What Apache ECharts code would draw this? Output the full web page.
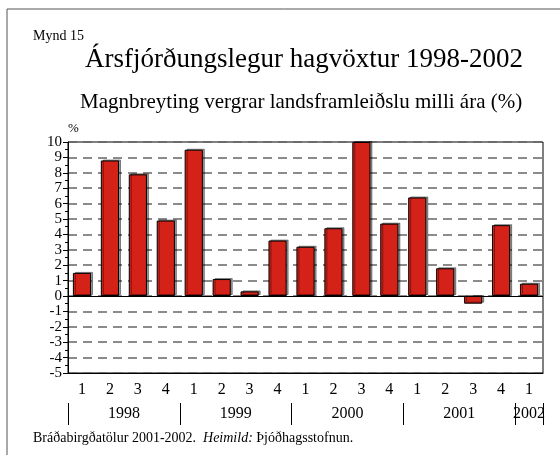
<!DOCTYPE html>
<html lang="is">
<head>
    <meta charset="UTF-8">
    <title>Ársfjórðungslegur hagvöxtur 1998-2002</title>
    <script src="https://cdn.jsdelivr.net/npm/echarts@6/dist/echarts.min.js"></script>
    <style>
        body {
            padding: 0;
            margin: 0;
            border: none;
            overflow: hidden;
            background: #fff;
        }
        #echart {
            width: 560px;
            height: 455px;
        }
    </style>
</head>
<body>
    <div id="echart"></div>
</body>
<script>
// ársfjórðungar 1998 Q1 - 2002 Q1
let quarters = ['1','2','3','4','1','2','3','4','1','2','3','4','1','2','3','4','1'];
let growth = [1.5, 8.8, 7.9, 4.9, 9.5, 1.1, 0.3, 3.6, 3.2, 4.4, 10.0, 4.7, 6.4, 1.8, -0.5, 4.6, 0.8];
let years = ['1998', '1999', '2000', '2001', '2002'];
let yearStart = [0, 4, 8, 12, 16];
let yearEnd = [4, 8, 12, 16, 17];
let yTicks = [10, 9, 8, 7, 6, 5, 4, 3, 2, 1, 0, -1, -2, -3, -4, -5];

let serif = '"Liberation Serif", "DejaVu Serif", serif';
let yearMid = years.map((_, i) => (yearStart[i] + yearEnd[i]) / 2);

window.ec = echarts.init(document.getElementById('echart'));
window.ec.setOption({
    animation: false,
    backgroundColor: '#fff',
    textStyle: { fontFamily: serif },
    graphic: [
        { type: 'line', shape: { x1: 7, y1: 9, x2: 560, y2: 9 }, style: { stroke: '#555', lineWidth: 1 } },
        { type: 'line', shape: { x1: 7, y1: 9, x2: 7, y2: 455 }, style: { stroke: '#555', lineWidth: 1 } },
        { type: 'text', left: 33, top: 29, style: { text: 'Mynd 15', font: '14px ' + serif, fill: '#000' } },
        { type: 'text', left: 85, top: 46, style: { text: 'Ársfjórðungslegur hagvöxtur 1998-2002', font: '27px ' + serif, fill: '#000' } },
        { type: 'text', left: 80, top: 92, style: { text: 'Magnbreyting vergrar landsframleiðslu milli ára (%)', font: '21px ' + serif, fill: '#000' } },
        { type: 'text', left: 68, top: 122, style: { text: '%', font: '13px ' + serif, fill: '#000' } },
        { type: 'text', left: 33, top: 431, style: {
            text: 'Bráðabirgðatölur 2001-2002.  {i|Heimild:} Þjóðhagsstofnun.',
            font: '14px ' + serif, fill: '#000',
            rich: { i: { fontStyle: 'italic', fontSize: 14, fontFamily: serif } }
        } }
    ],
    grid: {
        left: 68,
        right: 17,
        top: 142,
        bottom: 82,
        show: true,
        borderColor: '#000',
        borderWidth: 1
    },
    xAxis: [
        {
            type: 'category',
            data: quarters,
            position: 'bottom',
            axisLine: { onZero: false, lineStyle: { color: '#000' } },
            axisTick: { alignWithLabel: true, length: 6, lineStyle: { color: '#000' } },
            axisLabel: { color: '#000', fontSize: 16, margin: 9, fontFamily: serif, interval: 0 }
        },
        {
            type: 'value',
            min: 0,
            max: quarters.length,
            position: 'bottom',
            offset: 30,
            splitLine: { show: false },
            axisLine: { show: false, onZero: false },
            axisTick: {
                show: true,
                length: 22,
                customValues: yearStart.concat([quarters.length]),
                lineStyle: { color: '#000' }
            },
            axisLabel: {
                color: '#000',
                fontSize: 16,
                margin: 3,
                fontFamily: serif,
                customValues: yearMid,
                formatter: v => years[yearMid.indexOf(v)]
            }
        }
    ],
    yAxis: {
        type: 'value',
        min: -5,
        max: 10,
        interval: 1,
        axisLine: { show: true, lineStyle: { color: '#000' } },
        axisTick: { show: true, length: 5, lineStyle: { color: '#000' } },
        minorTick: { show: true, splitNumber: 2, length: 3, lineStyle: { color: '#000' } },
        axisLabel: {
            color: '#000',
            fontSize: 15,
            lineHeight: 12,
            margin: 6,
            fontFamily: serif,
            showMinLabel: true,
            showMaxLabel: true,
            hideOverlap: false
        },
        splitLine: { show: true, lineStyle: { color: '#666', type: [9, 6], width: 1.5 } }
    },
    series: [{
        type: 'bar',
        data: growth,
        barWidth: '65%',
        itemStyle: {
            color: '#d42219',
            borderColor: '#000',
            borderWidth: 1,
            shadowColor: 'rgba(0,0,0,0.4)',
            shadowOffsetX: 2,
            shadowOffsetY: -1,
            shadowBlur: 0
        },
        markLine: {
            silent: true,
            symbol: 'none',
            label: { show: false },
            lineStyle: { color: '#000', type: 'solid', width: 1 },
            data: [{ yAxis: 0 }]
        }
    }]
});
</script>
</html>
